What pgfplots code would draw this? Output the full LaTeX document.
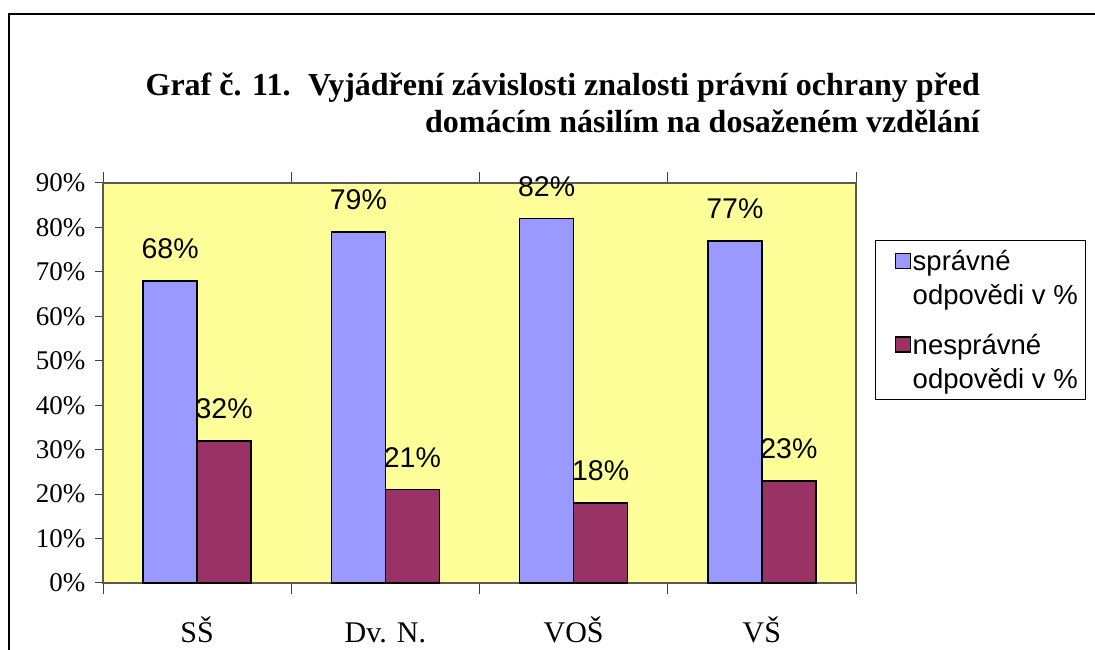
\documentclass[border=0pt]{standalone}
\usepackage{pgfplots}
\pgfplotsset{compat=1.18}
\usepackage{fontspec}
\setmainfont{Liberation Serif}
\newfontfamily\arial{Liberation Sans}
\definecolor{cblue}{HTML}{9999FF}
\definecolor{cmaroon}{HTML}{993366}
\definecolor{cyel}{HTML}{FFFF99}
\begin{document}
\begin{tikzpicture}[x=1pt,y=1pt]
\useasboundingbox (0,0) rectangle (1095,650);
\draw[line width=1.5pt] (9,-5) -- (9,636) -- (1100,636);
\node[anchor=base east, font=\bfseries\fontsize{32}{37}\selectfont, inner sep=0pt] at (980,554) {Graf č. 11.\hspace{0.55em}Vyjádření závislosti znalosti právní ochrany před};
\node[anchor=base east, font=\bfseries\fontsize{32}{37}\selectfont, inner sep=0pt] at (980,517) {domácím násilím na dosaženém vzdělání};
\begin{axis}[
  at={(103pt,67pt)}, anchor=south west,
  width=753pt, height=400pt, scale only axis,
  /pgf/number format/assume math mode=true,
  ymin=0, ymax=90, ytick={0,10,...,90},
  yticklabel={\pgfmathprintnumber{\tick}\%},
  xmin=-0.5, xmax=3.5,
  xtick={0,1,2,3}, xticklabels={SŠ,Dv. N.,VOŠ,VŠ},
  minor xtick={-0.5,0.5,1.5,2.5,3.5},
  tick align=outside,
  major x tick style={draw=none},
  minor x tick style={draw=gray!50!black, line width=1pt},
  minor tick length=11pt,
  major tick length=8pt,
  y tick style={draw=gray!50!black, line width=1pt},
  axis line style={draw=gray!70!black, line width=1.2pt},
  axis background/.style={fill=cyel},
  ytick pos=left,
  xticklabel style={font=\fontsize{30}{30}\selectfont, anchor=base, yshift=-52pt},
  yticklabel style={font=\fontsize{27}{27}\selectfont, xshift=-6pt},
  ybar=0pt, bar width=54pt,
  nodes near coords={\pgfmathprintnumber{\pgfplotspointmeta}\%},
  every node near coord/.append style={font=\arial\fontsize{28.5}{28.5}\selectfont, inner sep=0pt, yshift=21pt, black},
  clip=false,
  legend cell align=left,
  legend style={at={(1.0252,0.8575)}, anchor=north west, draw=black, line width=0.8pt, fill=white,
    font=\arial\fontsize{27.5}{34}\selectfont, row sep=24pt, inner xsep=6pt, inner ysep=8pt,
    nodes={align=left, inner sep=2pt}},
  legend image code/.code={\path (0pt,10pt); \draw[#1, draw=black, line width=1.2pt] (13pt,10pt) rectangle (28pt,25pt);},
]
\addplot[fill=cblue, draw=black, line width=1.5pt] coordinates {(0,68) (1,79) (2,82) (3,77)};
\addplot[fill=cmaroon, draw=black, line width=1.5pt] coordinates {(0,32) (1,21) (2,18) (3,23)};
\legend{správné\\odpovědi v \%, nesprávné\\odpovědi v \%}
\end{axis}
\end{tikzpicture}
\end{document}
